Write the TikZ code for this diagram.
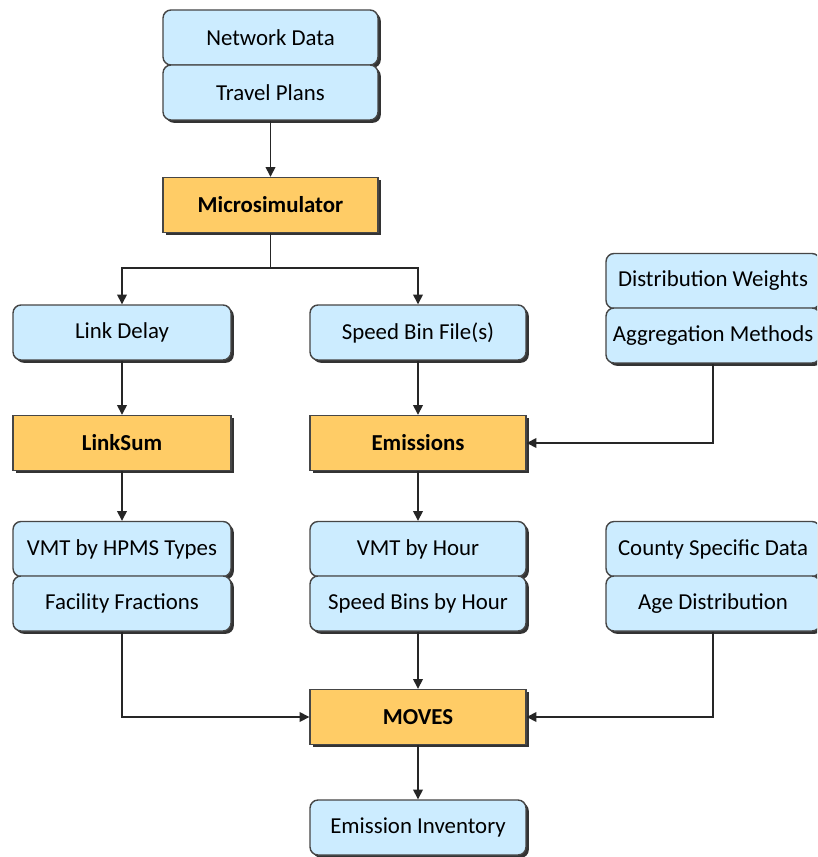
\documentclass[tikz,border=0pt]{standalone}
\usepackage{fontspec}
\setmainfont{Carlito}
\usetikzlibrary{shadows,arrows.meta}

\definecolor{inputblue}{RGB}{204,236,255}
\definecolor{procorange}{RGB}{255,204,102}
\definecolor{edgegray}{RGB}{70,70,70}

\tikzset{
  boxbase/.style={draw=edgegray, line width=0.8pt, minimum height=1.1cm,
    inner sep=0pt, align=center, font=\fontsize{13}{15}\selectfont,
    drop shadow={shadow xshift=1.6pt, shadow yshift=-1.6pt, fill=black!80, opacity=1}},
  databox/.style={boxbase, fill=inputblue, rounded corners=0.16cm},
  procbox/.style={boxbase, fill=procorange, font=\fontsize{13}{15}\selectfont\bfseries},
  flow/.style={draw=black!85, line width=0.8pt, -{Triangle[width=5.5pt,length=5.5pt]}},
  link/.style={draw=black!85, line width=0.8pt}
}

\begin{document}
\begin{tikzpicture}[x=0.02cm, y=-0.02cm]
  \clip (0,0) rectangle (817,857);
  \fill[white] (0,0) rectangle (817,857);

  % inputs to the microsimulator
  \node[databox, minimum width=4.3cm] (nd) at (270.5,37.5) {Network Data};
  \node[databox, minimum width=4.3cm] (tp) at (270.5,92.5) {Travel Plans};
  \node[procbox, minimum width=4.3cm] (micro) at (270.5,205) {Microsimulator};

  % microsimulator outputs
  \node[databox, minimum width=4.36cm] (ld) at (122,332.5) {Link Delay};
  \node[databox, minimum width=4.32cm] (sb) at (418,332.5) {Speed Bin File(s)};

  % emission settings
  \node[databox, minimum width=4.28cm] (dw) at (713,281) {Distribution Weights};
  \node[databox, minimum width=4.28cm] (am) at (713,335.5) {Aggregation Methods};

  % post-processors
  \node[procbox, minimum width=4.36cm] (ls) at (122,443) {LinkSum};
  \node[procbox, minimum width=4.32cm] (em) at (418,443) {Emissions};

  % MOVES inputs
  \node[databox, minimum width=4.36cm] (vh) at (122,549) {VMT by HPMS Types};
  \node[databox, minimum width=4.36cm] (ff) at (122,603.5) {Facility Fractions};
  \node[databox, minimum width=4.32cm] (vhr) at (418,549) {VMT by Hour};
  \node[databox, minimum width=4.32cm] (sbh) at (418,603.5) {Speed Bins by Hour};
  \node[databox, minimum width=4.28cm] (csd) at (713,549) {County Specific Data};
  \node[databox, minimum width=4.28cm] (ad) at (713,603.5) {Age Distribution};

  % MOVES and its result
  \node[procbox, minimum width=4.32cm] (moves) at (418,717) {MOVES};
  \node[databox, minimum width=4.32cm] (ei) at (418,827.5) {Emission Inventory};

  % connectors
  \coordinate (split) at (270.5,268);
  \draw[flow] (tp.south) -- (micro.north);
  \draw[link] (micro.south) -- (split);
  \draw[flow] (split) -| (ld.north);
  \draw[flow] (split) -| (sb.north);
  \draw[flow] (ld.south) -- (ls.north);
  \draw[flow] (sb.south) -- (em.north);
  \draw[flow] (am.south) |- (em.east);
  \draw[flow] (ls.south) -- (vh.north);
  \draw[flow] (em.south) -- (vhr.north);
  \draw[flow] (ff.south) |- (moves.west);
  \draw[flow] (sbh.south) -- (moves.north);
  \draw[flow] (ad.south) |- (moves.east);
  \draw[flow] (moves.south) -- (ei.north);
\end{tikzpicture}
\end{document}
